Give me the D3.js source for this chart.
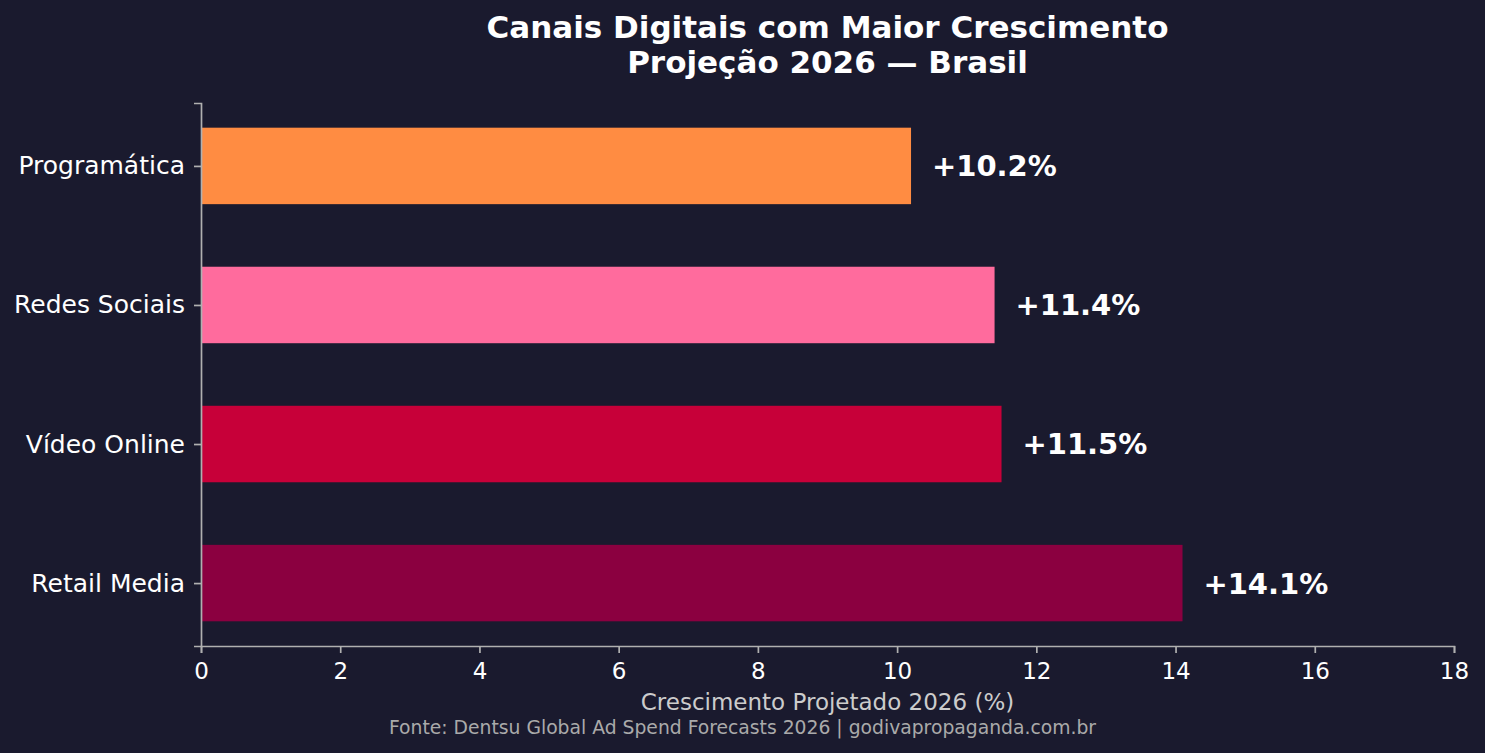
<!DOCTYPE html>
<html>
<head>
<meta charset="utf-8">
<script src="https://cdn.jsdelivr.net/npm/d3@7"></script>
<style>
  html, body { margin: 0; padding: 0; background: #1a1a2e; }
  svg { display: block; font-family: "DejaVu Sans", sans-serif; }
</style>
</head>
<body>
<svg id="chart" width="1485" height="753"></svg>
<script>
// data, bottom to top as drawn
const channels = ["Retail Media", "Vídeo Online", "Redes Sociais", "Programática"];
const growth = [14.1, 11.5, 11.4, 10.2];
const barColors = ["#8b0040", "#c70039", "#ff6b9d", "#ff8c42"];
const xTicks = [0, 2, 4, 6, 8, 10, 12, 14, 16, 18];

const width = 1485;
const height = 753;
const margin = { top: 103, right: 31, bottom: 107, left: 201 };

const svg = d3.select("#chart");
svg.append("rect").attr("width", width).attr("height", height).attr("fill", "#1a1a2e");

const x = d3.scaleLinear()
  .domain([0, 18])
  .range([margin.left, width - margin.right]);

// matplotlib-like positions: index 0..3, padded limits
const y = d3.scaleLinear()
  .domain([-0.4525, 3.4525])
  .range([height - margin.bottom, margin.top]);

const barH = 0.55;

// bars
svg.append("g")
  .selectAll("rect")
  .data(channels)
  .join("rect")
  .attr("x", x(0))
  .attr("y", (d, i) => y(i + barH / 2))
  .attr("width", (d, i) => x(growth[i]) - x(0))
  .attr("height", y(-barH / 2) - y(barH / 2))
  .attr("fill", (d, i) => barColors[i]);

// value labels
svg.append("g")
  .selectAll("text")
  .data(growth)
  .join("text")
  .attr("x", (d) => x(d + 0.3))
  .attr("y", (d, i) => y(i))
  .attr("dy", "0.36em")
  .attr("fill", "#ffffff")
  .attr("font-size", 29)
  .attr("font-weight", "bold")
  .text((d) => "+" + d.toFixed(1) + "%");

// x axis
const xAxis = svg.append("g")
  .attr("transform", `translate(0,${height - margin.bottom})`)
  .call(d3.axisBottom(x).tickValues(xTicks).tickSizeOuter(0).tickSize(7).tickPadding(10));
xAxis.select(".domain").attr("stroke", "#b0b0b0").attr("stroke-width", 1.7);
xAxis.selectAll(".tick line").attr("stroke", "#b0b0b0").attr("stroke-width", 1.7);
xAxis.selectAll(".tick text")
  .attr("fill", "#ffffff")
  .attr("font-size", 23)
  .attr("font-family", "DejaVu Sans, sans-serif");

// y axis
const yAxis = svg.append("g")
  .attr("transform", `translate(${margin.left},0)`)
  .call(d3.axisLeft(y)
    .tickValues([0, 1, 2, 3])
    .tickFormat((i) => channels[i])
    .tickSizeOuter(0)
    .tickSize(7)
    .tickPadding(9));
yAxis.select(".domain").attr("stroke", "#b0b0b0").attr("stroke-width", 1.7);
yAxis.selectAll(".tick line").attr("stroke", "#b0b0b0").attr("stroke-width", 1.7);
yAxis.selectAll(".tick text")
  .attr("fill", "#ffffff")
  .attr("font-size", 25)
  .attr("font-family", "DejaVu Sans, sans-serif");

// title
const cx = (margin.left + width - margin.right) / 2;
svg.append("text")
  .attr("x", cx).attr("y", 38)
  .attr("text-anchor", "middle")
  .attr("fill", "#ffffff")
  .attr("font-size", 31)
  .attr("font-weight", "bold")
  .text("Canais Digitais com Maior Crescimento");
svg.append("text")
  .attr("x", cx).attr("y", 73)
  .attr("text-anchor", "middle")
  .attr("fill", "#ffffff")
  .attr("font-size", 31)
  .attr("font-weight", "bold")
  .text("Projeção 2026 — Brasil");

// x label
svg.append("text")
  .attr("x", cx).attr("y", 710)
  .attr("text-anchor", "middle")
  .attr("fill", "#cccccc")
  .attr("font-size", 23)
  .text("Crescimento Projetado 2026 (%)");

// source
svg.append("text")
  .attr("x", width / 2).attr("y", 734)
  .attr("text-anchor", "middle")
  .attr("fill", "#aaaaaa")
  .attr("font-size", 18.75)
  .text("Fonte: Dentsu Global Ad Spend Forecasts 2026 | godivapropaganda.com.br");
</script>
</body>
</html>
